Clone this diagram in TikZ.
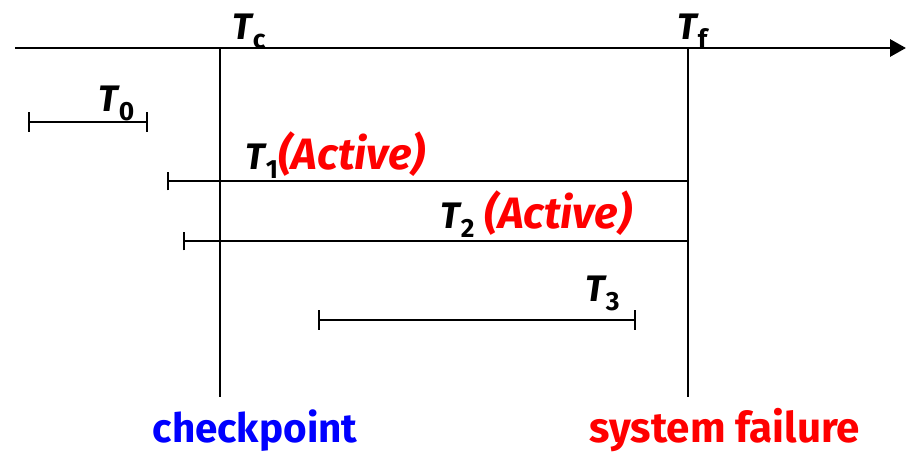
\documentclass[tikz,border=0pt]{standalone}
\usepackage{fontspec}
\setmainfont{Fira Sans}
\usetikzlibrary{arrows.meta}
\definecolor{failred}{RGB}{255,0,0}
\definecolor{ckblue}{RGB}{0,0,255}
\newcommand{\tlabel}[2]{{\bfseries\itshape #1}\kern0.5pt\raisebox{-0.45ex}{\fontsize{15}{15}\selectfont\bfseries #2}}
\newcommand{\activetag}{\textcolor{failred}{\fontsize{25}{25}\selectfont\bfseries\itshape (Active)}}

\begin{document}
\begin{tikzpicture}[x=0.02cm, y=0.02cm, font=\fontsize{21}{21}\selectfont,
  axis/.style={line width=1.7pt, -{Triangle[length=0.32cm,width=0.34cm]}},
  mark line/.style={line width=1.1pt},
  span/.style={line width=1.1pt, {Bar[width=0.4cm]}-{Bar[width=0.4cm]}},
  caption/.style={anchor=base, inner sep=0pt, font=\fontsize{24}{24}\selectfont\bfseries}]
\useasboundingbox (0,0) rectangle (907,457);
% --- time axis with checkpoint and failure marks ---
\coordinate (ax0) at (15,409);
\coordinate (ax1) at (906,409);
\draw[axis] (ax0) -- (ax1);
\coordinate (ck0) at (220,409);
\coordinate (ck1) at (220,60);
\coordinate (sf0) at (688,409);
\coordinate (sf1) at (688,60);
\draw[mark line] (ck0) -- (ck1);
\draw[mark line] (sf0) -- (sf1);
\node[anchor=base west, inner sep=0pt] (tc) at (232,417) {\tlabel{T}{c}};
\node[anchor=base west, inner sep=0pt] (tf) at (677,417) {\tlabel{T}{f}};
% --- transactions ---
\coordinate (a0) at (28,335);
\coordinate (a1) at (148,335);
\draw[span] (a0) -- (a1);
\node[anchor=base west, inner sep=0pt] (t0) at (98,345) {\tlabel{T}{0}};
\coordinate (b0) at (167,276);
\coordinate (b1) at (688,276);
\draw[mark line, {Bar[width=0.38cm]}-] (b0) -- (b1);
\node[anchor=base west, inner sep=0pt] (t1) at (245,287) {\tlabel{T}{1}\activetag};
\coordinate (c0) at (180,216);
\coordinate (c1) at (688,216);
\draw[mark line, {Bar[width=0.38cm, sep=0.06cm]}-] (c0) -- (c1);
\node[anchor=base west, inner sep=0pt] (t2) at (440,228) {\tlabel{T}{2} \activetag};
\coordinate (d0) at (318,137);
\coordinate (d1) at (636,137);
\draw[span] (d0) -- (d1);
\node[anchor=base west, inner sep=0pt] (t3) at (585,155) {\tlabel{T}{3}};
% --- captions ---
\node[caption, text=ckblue, font=\fontsize{23}{23}\selectfont\bfseries] (ck) at (255,14) {checkpoint};
\node[caption, text=failred] (sf) at (725,14) {system failure};
\end{tikzpicture}
\end{document}
